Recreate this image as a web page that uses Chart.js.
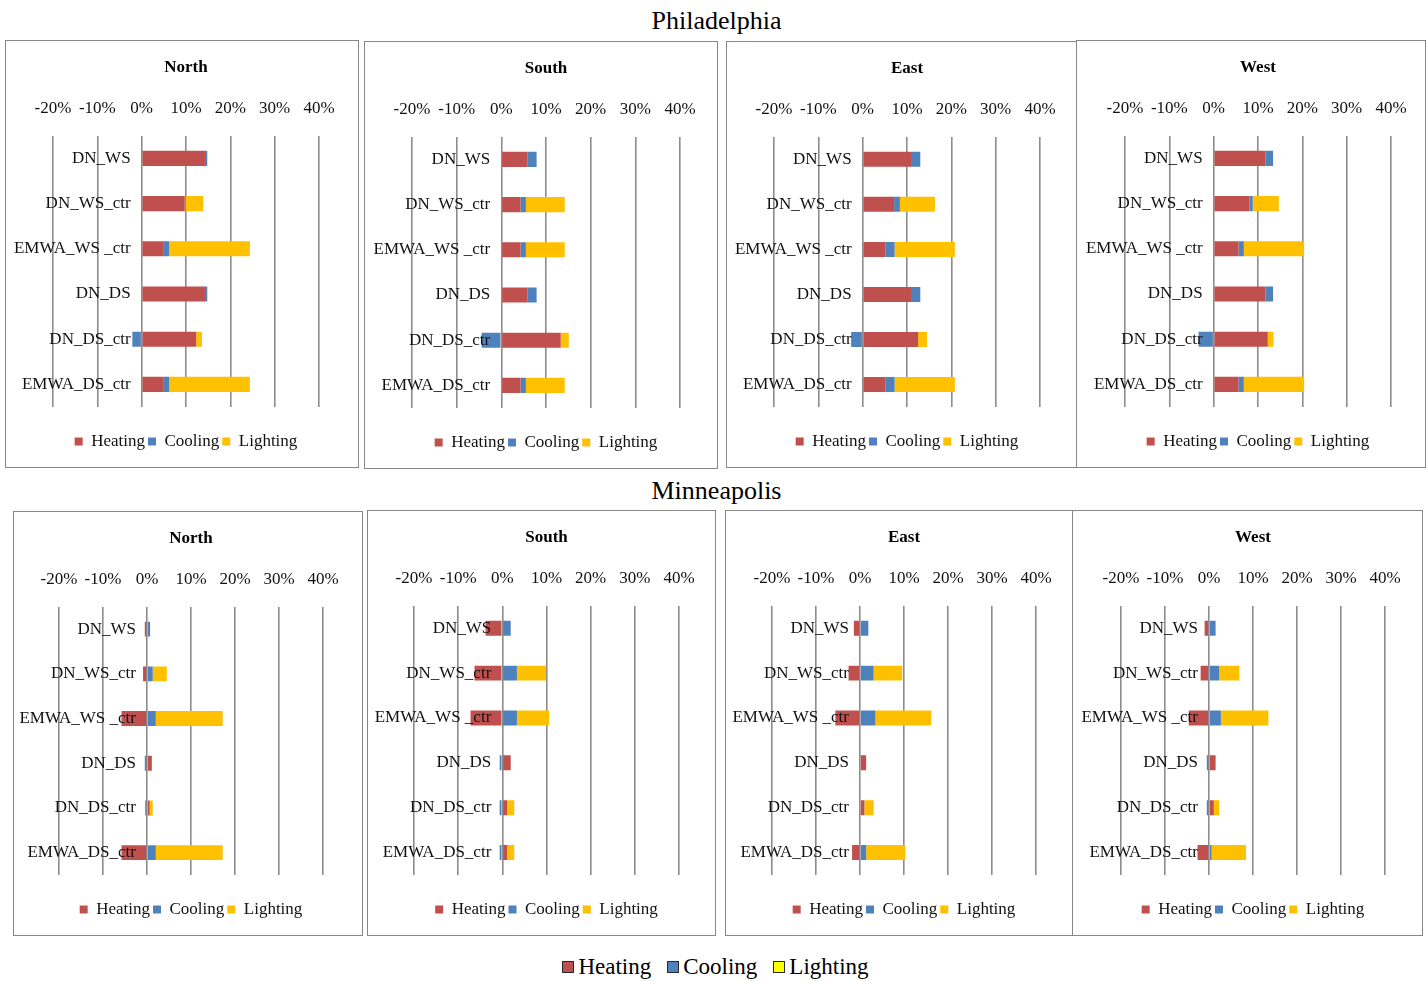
<!DOCTYPE html>
<html>
<head>
<meta charset="utf-8">
<script src="https://cdn.jsdelivr.net/npm/chart.js@4/dist/chart.umd.min.js"></script>
<style>
  html, body { margin: 0; padding: 0; background: #fff; }
  body { width: 1427px; height: 981px; position: relative; overflow: hidden;
         font-family: 'Liberation Serif', 'Times New Roman', serif; color: #000; }
  .city { position: absolute; left: 3px; width: 1427px; text-align: center;
          font-size: 26px; line-height: 26px; }
  .panel { position: absolute; box-sizing: border-box; border: 1px solid #878787; background: #fff; }
  .panel canvas { display: block; }
  #legend { position: absolute; top: 955px; left: 2px; width: 1427px; display: flex;
            justify-content: center; font-size: 23px; line-height: 23px; }
  .key { display: flex; align-items: center; margin: 0 8px; }
  .swatch { width: 10px; height: 10px; border: 1px solid #2a2a2a; margin-right: 4px; }
</style>
</head>
<body>
<div class="city" style="top:8px">Philadelphia</div>
<div class="city" style="top:478px">Minneapolis</div>
<div id="legend"></div>

<script>
// ---- data: change in energy use (%) per design option ----
const categories = ['DN_WS', 'DN_WS_ctr', 'EMWA_WS _ctr', 'DN_DS', 'DN_DS_ctr', 'EMWA_DS_ctr'];
const seriesNames = ['Heating', 'Cooling', 'Lighting'];
const orientations = ['North', 'South', 'East', 'West'];
const xTicks = [-20, -10, 0, 10, 20, 30, 40];

// Philadelphia
const phlNorthHeating  = [14.5, 9.7, 5.0, 14.5, 12.3, 5.0];
const phlNorthCooling  = [0.3, 0.2, 1.2, 0.3, -2.1, 1.2];
const phlNorthLighting = [0, 4.0, 18.2, 0, 1.3, 18.2];

const phlSouthHeating  = [5.9, 4.3, 4.3, 5.9, 13.3, 4.3];
const phlSouthCooling  = [2.0, 1.2, 1.2, 2.0, -4.4, 1.2];
const phlSouthLighting = [0, 8.7, 8.7, 0, 1.8, 8.7];

const phlEastHeating   = [10.9, 7.1, 5.1, 10.9, 12.5, 5.1];
const phlEastCooling   = [2.1, 1.3, 2.1, 2.1, -2.6, 2.1];
const phlEastLighting  = [0, 7.9, 13.6, 0, 2.0, 13.6];

const phlWestHeating   = [11.7, 8.1, 5.6, 11.7, 12.2, 5.6];
const phlWestCooling   = [1.7, 0.7, 1.2, 1.7, -3.4, 1.2];
const phlWestLighting  = [0, 5.9, 13.6, 0, 1.3, 13.6];

// Minneapolis
const mspNorthHeating  = [-0.5, -0.9, -5.8, 1.1, 0.6, -5.8];
const mspNorthCooling  = [0.7, 1.3, 2.0, -0.5, -0.4, 2.0];
const mspNorthLighting = [0, 3.2, 15.2, 0, 0.7, 15.2];

const mspSouthHeating  = [-3.8, -6.3, -7.2, 1.9, 1.1, 1.1];
const mspSouthCooling  = [1.9, 3.3, 3.3, -0.6, -0.6, -0.6];
const mspSouthLighting = [0, 6.6, 7.3, 0, 1.6, 1.6];

const mspEastHeating   = [-1.4, -2.6, -5.6, 1.4, 1.0, -1.8];
const mspEastCooling   = [1.9, 3.1, 3.5, 0, 0, 1.4];
const mspEastLighting  = [0, 6.5, 12.7, 0, 2.1, 8.9];

const mspWestHeating   = [-1.0, -1.9, -4.6, 1.5, 1.1, -2.6];
const mspWestCooling   = [1.5, 2.3, 2.7, -0.5, -0.5, 0.6];
const mspWestLighting  = [0, 4.6, 10.8, 0, 1.2, 7.8];

const panelSeries = [
  [phlNorthHeating, phlNorthCooling, phlNorthLighting],
  [phlSouthHeating, phlSouthCooling, phlSouthLighting],
  [phlEastHeating,  phlEastCooling,  phlEastLighting],
  [phlWestHeating,  phlWestCooling,  phlWestLighting],
  [mspNorthHeating, mspNorthCooling, mspNorthLighting],
  [mspSouthHeating, mspSouthCooling, mspSouthLighting],
  [mspEastHeating,  mspEastCooling,  mspEastLighting],
  [mspWestHeating,  mspWestCooling,  mspWestLighting]
];

// ---- styling and page layout ----
const barColors = ['#C0504D', '#4F81BD', '#FFC000'];
const keyColors = ['#C0504D', '#4F81BD', '#FFFF00'];
const FONT = "'Liberation Serif', 'Times New Roman', serif";
const LABEL_ANCHOR = -2.5; // category labels sit just left of the 0% line

// frame box (outer) and plot-area left offset / width inside each frame
const frames = [
  {left: 5,    top: 40,  width: 354, height: 428, plotLeft: 47, plotWidth: 266},
  {left: 364,  top: 41,  width: 354, height: 428, plotLeft: 47, plotWidth: 268},
  {left: 726,  top: 41,  width: 351, height: 427, plotLeft: 47, plotWidth: 266},
  {left: 1076, top: 40,  width: 350, height: 428, plotLeft: 48, plotWidth: 266},
  {left: 13,   top: 511, width: 350, height: 425, plotLeft: 45, plotWidth: 264},
  {left: 367,  top: 510, width: 349, height: 426, plotLeft: 46, plotWidth: 265},
  {left: 725,  top: 510, width: 348, height: 426, plotLeft: 46, plotWidth: 264},
  {left: 1072, top: 510, width: 351, height: 426, plotLeft: 48, plotWidth: 264}
];

frames.forEach((f, idx) => {
  const box = document.createElement('div');
  box.className = 'panel';
  box.style.left = f.left + 'px';
  box.style.top = f.top + 'px';
  box.style.width = f.width + 'px';
  box.style.height = f.height + 'px';
  const innerW = f.width - 2, innerH = f.height - 2;
  const canvas = document.createElement('canvas');
  canvas.width = innerW;
  canvas.height = innerH;
  box.appendChild(canvas);
  document.body.appendChild(box);

  const values = panelSeries[idx];
  new Chart(canvas, {
    type: 'bar',
    data: {
      labels: categories,
      datasets: seriesNames.map((name, i) => ({
        label: name,
        data: values[i],
        backgroundColor: barColors[i],
        borderWidth: 0,
        categoryPercentage: 0.333,
        barPercentage: 1
      }))
    },
    options: {
      responsive: false,
      animation: false,
      indexAxis: 'y',
      layout: {
        padding: {left: f.plotLeft, right: innerW - f.plotLeft - f.plotWidth, top: 0, bottom: 7}
      },
      scales: {
        x: {
          position: 'top',
          stacked: true,
          min: -20,
          max: 40,
          afterBuildTicks: axis => { axis.ticks = xTicks.map(v => ({value: v})); },
          ticks: {
            callback: v => v + '%',
            font: {family: FONT, size: 17},
            color: '#111',
            padding: 17,
            maxRotation: 0,
            autoSkip: false
          },
          grid: {color: '#8c8c8c', lineWidth: 1.6, drawTicks: false},
          border: {display: false}
        },
        y: {
          position: {x: LABEL_ANCHOR},
          stacked: true,
          grid: {display: false},
          border: {display: false},
          ticks: {
            z: 1,
            font: {family: FONT, size: 17},
            color: '#111',
            autoSkip: false
          }
        }
      },
      plugins: {
        title: {
          display: true,
          text: orientations[idx % 4],
          font: {family: FONT, size: 17, weight: 'bold'},
          color: '#000',
          padding: {top: 16, bottom: 4}
        },
        legend: {
          position: 'bottom',
          title: {display: true, text: '', font: {size: 1, lineHeight: 1}, padding: {top: 22, bottom: 0}},
          labels: {
            boxWidth: 8,
            boxHeight: 8,
            padding: 3,
            font: {family: FONT, size: 17},
            color: '#111'
          }
        },
        tooltip: {enabled: false}
      }
    }
  });
});

// shared key below both rows
const legend = document.getElementById('legend');
seriesNames.forEach((name, i) => {
  const key = document.createElement('div');
  key.className = 'key';
  const sw = document.createElement('span');
  sw.className = 'swatch';
  sw.style.background = keyColors[i];
  key.appendChild(sw);
  key.appendChild(document.createTextNode(name));
  legend.appendChild(key);
});
</script>
</body>
</html>
